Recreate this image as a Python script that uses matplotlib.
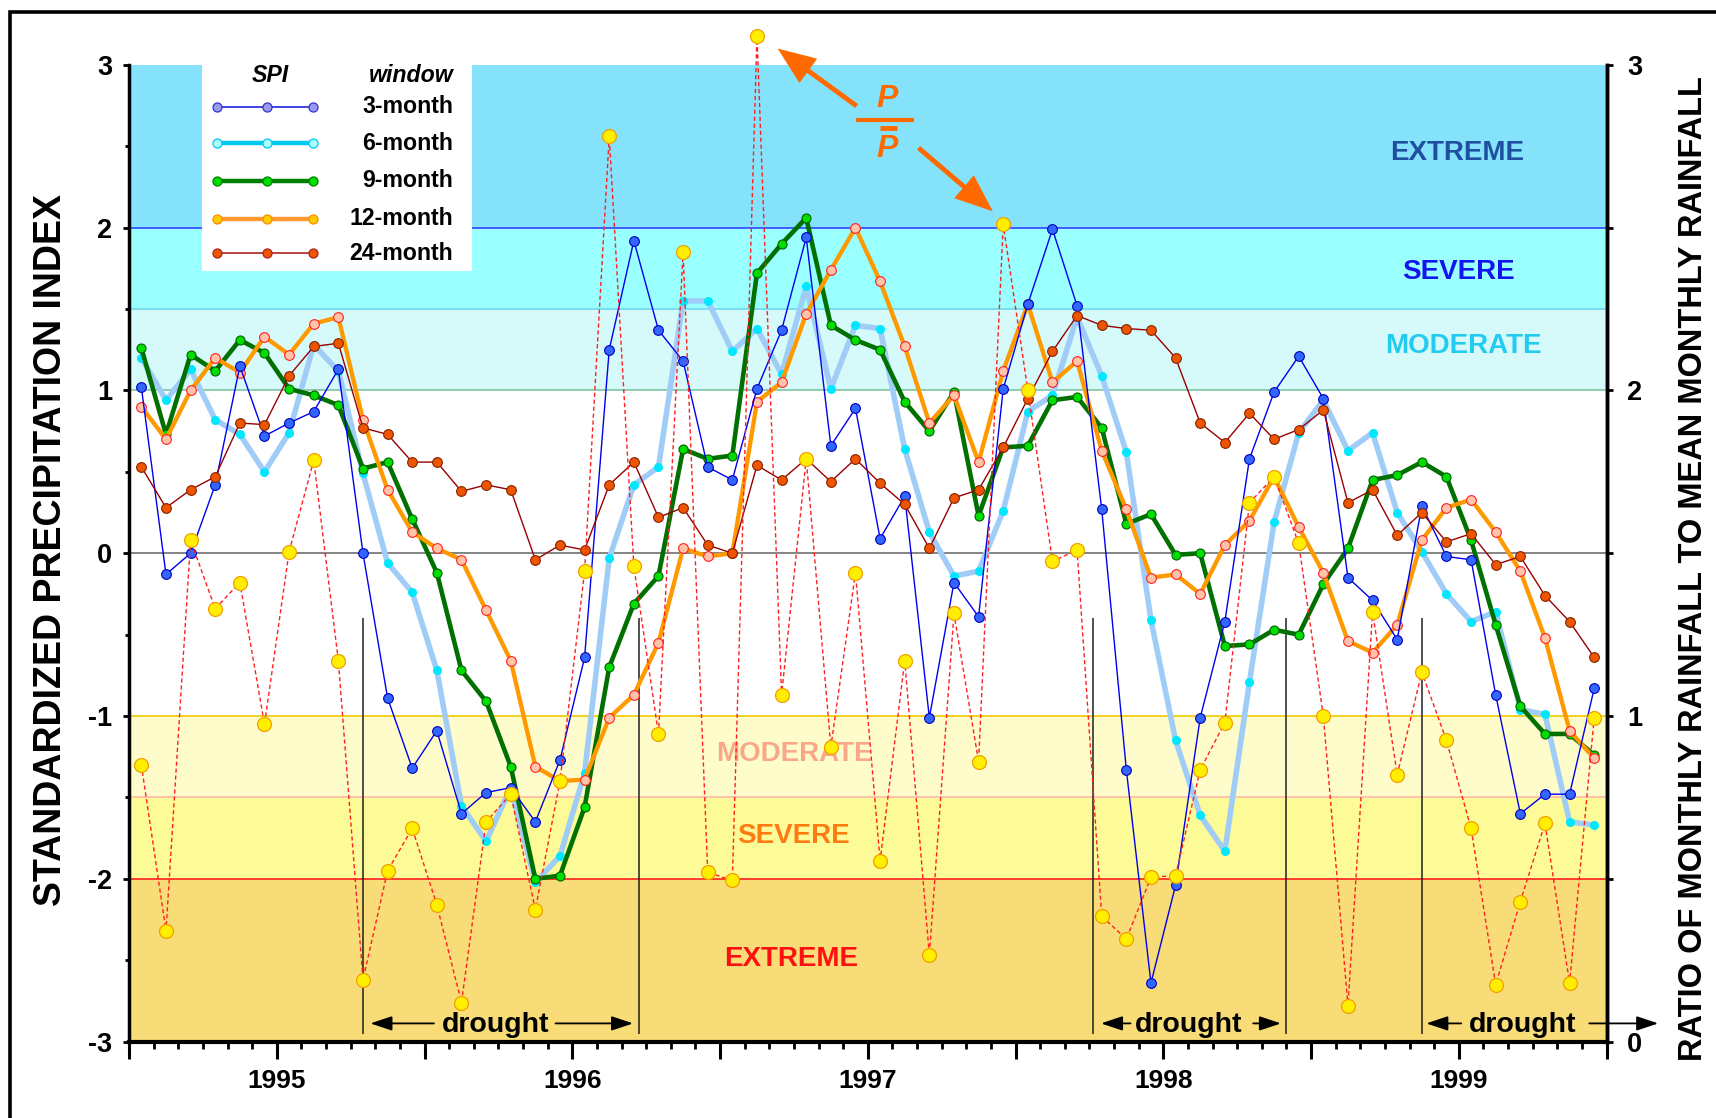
import matplotlib
matplotlib.use("Agg")
import matplotlib.pyplot as plt
from matplotlib.patches import Rectangle
from matplotlib.ticker import FixedLocator, MultipleLocator

plt.rcParams['font.family'] = ['Liberation Sans', 'DejaVu Sans']
plt.rcParams['font.weight'] = 'bold'
plt.rcParams['axes.unicode_minus'] = False

# data: monthly values, Jul 1994 .. Jun 1999
spi3 = [1.02, -0.13, 0.00, 0.42, 1.15, 0.72, 0.80, 0.87, 1.13, 0.00,
        -0.89, -1.32, -1.09, -1.60, -1.47, -1.44, -1.65, -1.27, -0.64, 1.25,
        1.92, 1.37, 1.18, 0.53, 0.45, 1.01, 1.37, 1.94, 0.66, 0.89,
        0.09, 0.35, -1.01, -0.18, -0.39, 1.01, 1.53, 1.99, 1.52, 0.27,
        -1.33, -2.64, -2.04, -1.01, -0.42, 0.58, 0.99, 1.21, 0.95, -0.15,
        -0.29, -0.53, 0.29, -0.02, -0.04, -0.87, -1.60, -1.48, -1.48, -0.83]
spi6 = [1.20, 0.94, 1.13, 0.82, 0.73, 0.50, 0.74, 1.28, 1.12, 0.49,
        -0.06, -0.24, -0.72, -1.55, -1.77, -1.44, -2.02, -1.86, -1.35, -0.03,
        0.42, 0.53, 1.55, 1.55, 1.24, 1.38, 1.10, 1.64, 1.01, 1.40,
        1.38, 0.64, 0.13, -0.14, -0.11, 0.26, 0.87, 0.97, 1.45, 1.09,
        0.62, -0.41, -1.15, -1.61, -1.83, -0.79, 0.19, 0.74, 0.94, 0.63,
        0.74, 0.25, 0.01, -0.25, -0.42, -0.36, -0.96, -0.99, -1.65, -1.67]
spi9 = [1.26, 0.73, 1.22, 1.12, 1.31, 1.23, 1.01, 0.97, 0.91, 0.52,
        0.56, 0.21, -0.12, -0.72, -0.91, -1.31, -2.00, -1.98, -1.56, -0.70,
        -0.31, -0.14, 0.64, 0.58, 0.60, 1.72, 1.90, 2.06, 1.40, 1.31,
        1.25, 0.93, 0.75, 0.99, 0.23, 0.65, 0.66, 0.94, 0.96, 0.77,
        0.18, 0.24, -0.01, 0.00, -0.57, -0.56, -0.47, -0.50, -0.19, 0.03,
        0.45, 0.48, 0.56, 0.47, 0.08, -0.44, -0.94, -1.11, -1.11, -1.24]
spi12 = [0.90, 0.70, 1.00, 1.20, 1.11, 1.33, 1.22, 1.41, 1.45, 0.82,
         0.39, 0.13, 0.03, -0.04, -0.35, -0.66, -1.31, -1.40, -1.39, -1.01,
         -0.87, -0.55, 0.03, -0.02, 0.00, 0.93, 1.05, 1.47, 1.74, 2.00,
         1.67, 1.27, 0.80, 0.97, 0.56, 1.12, 1.53, 1.05, 1.18, 0.63,
         0.27, -0.15, -0.13, -0.25, 0.05, 0.20, 0.47, 0.16, -0.12, -0.54,
         -0.61, -0.44, 0.08, 0.28, 0.33, 0.13, -0.11, -0.52, -1.09, -1.26]
spi24 = [0.53, 0.28, 0.39, 0.47, 0.80, 0.79, 1.09, 1.27, 1.29, 0.77,
         0.73, 0.56, 0.56, 0.38, 0.42, 0.39, -0.04, 0.05, 0.02, 0.42,
         0.56, 0.22, 0.28, 0.05, 0.00, 0.54, 0.45, 0.58, 0.44, 0.58,
         0.43, 0.30, 0.03, 0.34, 0.39, 0.65, 0.95, 1.24, 1.46, 1.40,
         1.38, 1.37, 1.20, 0.80, 0.68, 0.86, 0.70, 0.76, 0.88, 0.31,
         0.39, 0.11, 0.25, 0.07, 0.12, -0.07, -0.02, -0.26, -0.42, -0.64]
# ratio of monthly rainfall to mean monthly rainfall (right axis)
ratio = [0.85, 0.34, 1.54, 1.33, 1.41, 0.975, 1.505, 1.785, 1.17, 0.19,
         0.525, 0.655, 0.42, 0.12, 0.675, 0.76, 0.405, 0.80, 1.445, 2.78,
         1.46, 0.945, 2.425, 0.52, 0.495, 3.09, 1.065, 1.79, 0.905, 1.44,
         0.555, 1.17, 0.265, 1.315, 0.86, 2.51, 2.00, 1.475, 1.51, 0.385,
         0.315, 0.505, 0.51, 0.835, 0.98, 1.655, 1.735, 1.53, 1.00, 0.11,
         1.32, 0.82, 1.135, 0.925, 0.655, 0.175, 0.43, 0.67, 0.18, 0.995]

years = ['1995', '1996', '1997', '1998', '1999']
drought_lines = [9.5, 20.7, 39.15, 47.0, 52.5]
drought_text_x = [14.88, 43.03, 56.6]
drought_arrows = [(12.38, 9.8), (17.32, 20.47), (40.67, 39.47),
                  (45.65, 46.78), (54.1, 52.68), (59.3, 62.1)]

x = [i + 0.5 for i in range(len(spi3))]

fig = plt.figure(figsize=(17.16, 11.18), dpi=100)
ax = fig.add_axes([0.0752, 0.0683, 0.8610, 0.8737])

# classification bands
bands = [(2, 3, '#84e3fb'), (1.5, 2, '#99ffff'), (1, 1.5, '#d6f9f9'),
         (-1.5, -1, '#fffccc'), (-2, -1.5, '#fdfb98'), (-3, -2, '#f8dc78')]
for lo, hi, c in bands:
    ax.axhspan(lo, hi, color=c, lw=0, zorder=0)
for yv, c in [(2, '#3344ff'), (1.5, '#70d8ec'), (1, '#80c4a4'), (0, '#707070'),
              (-1, '#f0c800'), (-1.5, '#ffb8a8'), (-2, '#ff2020')]:
    ax.axhline(yv, color=c, lw=1.2, zorder=1)

band_text = [(53.93, 2.456, 'EXTREME', '#1f4f9f'), (53.98, 1.73, 'SEVERE', '#1414ee'),
             (54.2, 1.273, 'MODERATE', '#22ccf0'), (27.0, -1.233, 'MODERATE', '#f8a888'),
             (27.0, -1.737, 'SEVERE', '#ff7a10'), (26.9, -2.49, 'EXTREME', '#ff1010')]
for tx, ty, s, c in band_text:
    ax.text(tx, ty, s, color=c, fontsize=20, weight='heavy', ha='center', va='center', zorder=1.5)

# drought periods
ax.vlines(drought_lines, -2.95, -0.4, colors='#202020', lw=1.1, zorder=2)
for tx in drought_text_x:
    ax.text(tx, -2.9, 'drought', fontsize=20.5, weight='bold', ha='center', va='center', zorder=6)
for tail, head in drought_arrows:
    ax.annotate('', xy=(head, -2.888), xytext=(tail, -2.888), annotation_clip=False,
                arrowprops=dict(arrowstyle='-|>,head_length=0.6,head_width=0.2',
                                mutation_scale=22, lw=1.3, color='black',
                                shrinkA=0, shrinkB=0), zorder=6)

# SPI series
ax.plot(x, spi6, color='#a0ccf8', lw=4.0, marker='o', ms=5.5, mfc='#00e8ff', mec='#00e8ff', zorder=3)
ax.plot(x, spi9, color='#007000', lw=3.3, marker='o', ms=6.5, mfc='#00dd00', mec='#006000', mew=0.8, zorder=3.1)
ax.plot(x, spi12, color='#ff9900', lw=3.1, marker='o', ms=7, mfc='#ffc4a8', mec='#ff2020', mew=0.8, zorder=3.2)
ax.plot(x, spi3, color='#0000ee', lw=1.0, marker='o', ms=7, mfc='#3366ff', mec='#0000bb', mew=0.8, zorder=3.3)
ax.plot(x, spi24, color='#990000', lw=1.0, marker='o', ms=7, mfc='#ee5500', mec='#882200', mew=0.8, zorder=3.4)

ax.set_xlim(0, 60)
ax.set_ylim(-3, 3)
ax.xaxis.set_major_locator(FixedLocator(range(0, 61, 6)))
ax.xaxis.set_minor_locator(MultipleLocator(1))
ax.set_xticklabels(['', years[0], '', years[1], '', years[2], '', years[3], '', years[4], ''])
ax.yaxis.set_major_locator(MultipleLocator(1))
ax.yaxis.set_minor_locator(MultipleLocator(0.5))
ax.tick_params(axis='x', which='major', length=12, width=2.2, labelsize=19, pad=8)
ax.tick_params(axis='x', which='minor', length=5, width=2)
ax.tick_params(axis='y', which='major', length=4, width=2, labelsize=19.5, pad=8)
ax.tick_params(axis='y', which='minor', length=3, width=2)
for lab in ax.get_xticklabels() + ax.get_yticklabels():
    lab.set_fontweight('bold')
ax.spines['top'].set_visible(False)
ax.spines['left'].set_linewidth(2.5)
ax.spines['bottom'].set_linewidth(3)
ax.spines['right'].set_linewidth(2.5)

# right axis: P / P-bar
ax2 = ax.twinx()
ax2.set_ylim(0, 3)
ax2.yaxis.set_major_locator(FixedLocator([0, 1, 2, 3]))
ax2.yaxis.set_minor_locator(MultipleLocator(0.5))
ax2.tick_params(axis='y', which='both', length=4, width=2, labelsize=19.5, pad=11)
for lab in ax2.get_yticklabels():
    lab.set_fontweight('bold')
for side in ['top', 'left', 'bottom']:
    ax2.spines[side].set_visible(False)
ax2.spines['right'].set_linewidth(2.5)
ax2.plot(x, ratio, color='#ff2020', lw=1.0, ls=(0, (3, 2)), marker='o', ms=10,
         mfc='#ffee00', mec='#f0a000', mew=0.9, clip_on=False, zorder=4)

# P / P-bar label with arrows
orange = '#ff6a00'
ax.text(30.8, 2.788, 'P', color=orange, fontsize=23, weight='bold', style='italic',
        ha='center', va='center', zorder=7)
ax.text(30.77, 2.48, 'P', color=orange, fontsize=23, weight='bold', style='italic',
        ha='center', va='center', zorder=7)
ax.plot([29.52, 31.88], [2.661, 2.661], color=orange, lw=3, solid_capstyle='butt', zorder=7)
ax.plot([30.5, 31.2], [2.61, 2.61], color=orange, lw=3.5, solid_capstyle='butt', zorder=7)
for tail, head in [((29.55, 2.747), (26.34, 3.10)), ((32.06, 2.49), (35.08, 2.10))]:
    ax.annotate('', xy=head, xytext=tail, annotation_clip=False,
                arrowprops=dict(arrowstyle='simple,head_length=0.78,head_width=0.62,tail_width=0.1',
                                mutation_scale=35, color=orange, lw=0,
                                shrinkA=0, shrinkB=0), zorder=7)

# legend box
ax.add_patch(Rectangle((0.0491, 0.7892), 0.1828, 0.2108, transform=ax.transAxes,
                       facecolor='white', edgecolor='none', zorder=8))
ax.text(0.0954, 0.9889, 'SPI', transform=ax.transAxes, fontsize=16.7, weight='bold',
        style='italic', ha='center', va='center', zorder=9)
ax.text(0.2194, 0.9889, 'window', transform=ax.transAxes, fontsize=16.7, weight='bold',
        style='italic', ha='right', va='center', zorder=9)
legend_rows = [
    ('3-month', 0.9571, '#2222dd', 1.2, '#9999ee', '#3333cc'),
    ('6-month', 0.9197, '#00c8f0', 3.2, '#aaffff', '#00c8f0'),
    ('9-month', 0.8814, '#008000', 3.2, '#00dd00', '#008000'),
    ('12-month', 0.8422, '#ff9933', 3.2, '#ffcc00', '#ff8800'),
    ('24-month', 0.8070, '#aa2222', 1.2, '#ee5500', '#aa2222'),
]
for lab, ly, lc, lw, mf, me in legend_rows:
    ax.plot([0.0593, 0.0935, 0.1247], [ly] * 3, transform=ax.transAxes, color=lc, lw=lw,
            marker='o', ms=6.5, mfc=mf, mec=me, mew=0.9, zorder=9, clip_on=False)
    ax.text(0.2194, ly, lab, transform=ax.transAxes, fontsize=16.7, weight='bold',
            ha='right', va='center', zorder=9)

# axis titles
fig.text(0.0297, 0.508, 'STANDARDIZED PRECIPITATION INDEX', rotation=90, fontsize=27,
         weight='bold', ha='center', va='center')
fig.text(0.9866, 0.491, 'RATIO OF MONTHLY RAINFALL TO MEAN MONTHLY RAINFALL', rotation=90,
         fontsize=23.5, weight='bold', ha='center', va='center')

# outer frame (left and top edges visible)
fig.add_artist(Rectangle((0.00583, -0.5), 2, 1.4895, transform=fig.transFigure,
                         fill=False, lw=2.6, ec='black'))

fig.savefig('out.png', dpi=100)
